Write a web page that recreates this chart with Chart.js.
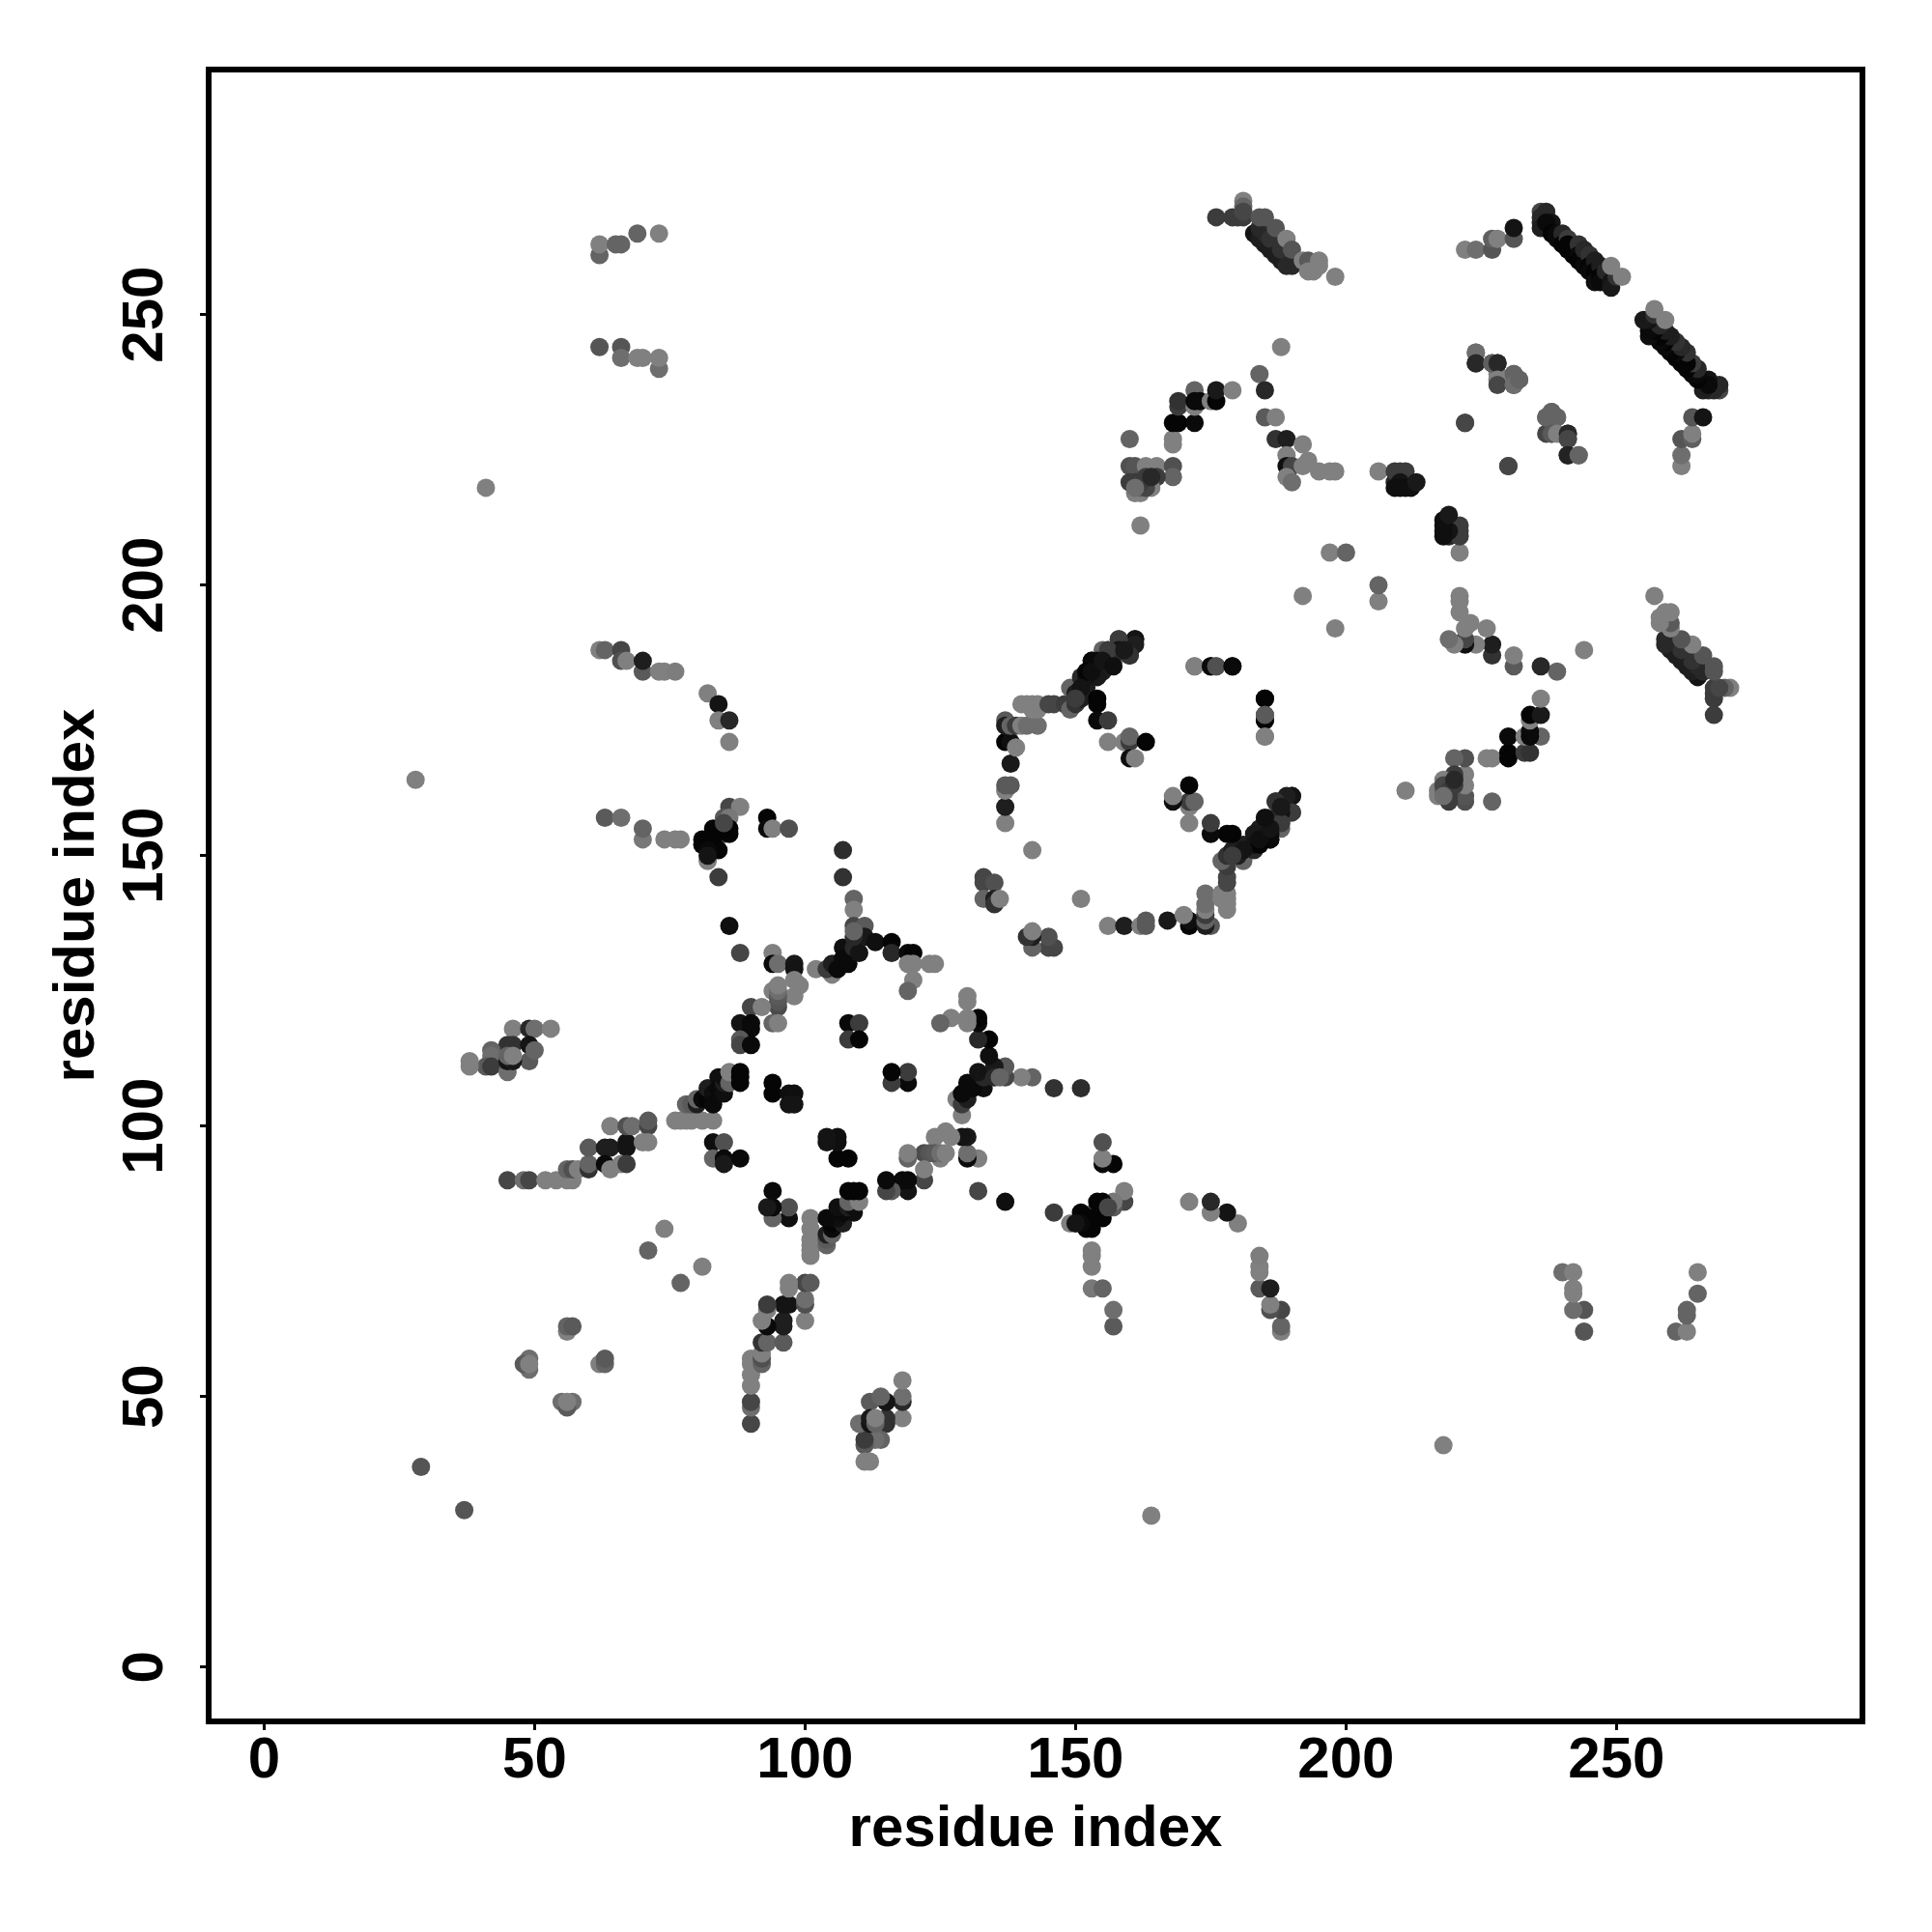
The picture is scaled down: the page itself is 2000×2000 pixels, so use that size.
<!DOCTYPE html>
<html>
<head>
<meta charset="utf-8">
<style>html,body{margin:0;padding:0;background:#fff}canvas{display:block}</style>
<script src="https://cdn.jsdelivr.net/npm/chart.js@4/dist/chart.umd.js"></script>
</head>
<body>
<canvas id="c" width="2000" height="2000" style="width:2000px;height:2000px"></canvas>
<script>
const tickValues = [0, 50, 100, 150, 200, 250];
const axisTitle = "residue index";
const contactX = [
62,62,65,66,69,73,62,66,66,69,
70,73,73,41,28,29,74,71,49,49,
48,49,56,56,57,62,63,66,66,67,
70,70,73,74,76,82,84,84,86,86,
63,66,70,70,74,76,77,82,86,88,
85,86,85,83,86,86,81,83,81,84,
82,82,85,84,93,93,94,97,107,107,
86,88,94,94,95,98,98,98,99,98,
94,95,95,95,95,95,90,92,94,95,
88,90,90,88,88,90,109,109,109,111,
102,105,104,105,106,107,107,108,109,110,
110,111,109,109,113,116,116,119,120,119,
120,123,124,120,119,108,110,108,110,94,
94,97,98,97,98,83,85,83,85,85,
88,46,49,50,53,45,46,49,49,50,
42,42,41,42,45,45,46,45,46,38,
38,45,48,49,52,54,56,57,56,57,
58,60,60,60,63,64,67,67,63,64,
66,67,64,67,68,71,71,70,71,76,
77,78,79,81,83,78,79,80,80,81,
82,82,83,82,83,83,84,84,85,85,
85,86,86,88,88,88,137,137,137,138,
137,138,137,138,139,137,137,138,139,140,
141,143,140,141,142,143,142,143,145,146,
148,149,149,150,151,151,152,153,154,154,
154,154,154,156,155,156,156,157,157,158,
160,160,161,142,156,159,160,160,163,160,
161,172,175,176,179,185,185,185,185,133,
133,135,133,135,135,136,188,184,185,185,
187,187,189,192,189,189,190,193,192,189,
190,195,197,198,206,209,209,210,211,210,
209,210,211,212,213,197,200,192,160,160,
161,163,165,168,168,165,161,164,161,162,
160,163,162,168,168,168,169,172,169,169,
172,172,172,173,175,176,176,179,176,179,
180,181,181,181,181,183,184,185,184,185,
186,186,187,188,188,189,190,184,185,187,
189,190,192,193,193,194,195,195,198,222,
224,227,227,228,231,231,224,224,227,228,
228,228,231,231,232,222,230,238,237,239,
238,239,241,241,241,243,236,237,236,236,
236,238,237,238,239,239,240,240,241,241,
241,242,242,243,243,243,244,244,245,245,
245,246,246,246,247,247,247,248,249,249,
250,249,251,
161,161,160,158,158,157,156,156,154,155,
154,153,152,152,150,151,150,153,155,157,
159,162,163,162,161,164];
const contactY = [
261,263,263,263,265,265,244,244,242,242,
242,240,242,218,164,37,81,77,55,57,
56,56,62,63,63,188,188,188,186,186,
184,186,184,184,184,180,178,175,175,171,
157,157,153,155,153,153,153,149,159,159,
157,157,154,155,155,154,153,153,152,151,
151,150,156,146,157,155,155,155,151,146,
137,132,132,130,130,130,129,127,126,124,
125,122,123,124,125,126,122,122,119,119,
119,119,118,116,115,115,142,140,137,137,
129,128,129,130,129,133,131,130,133,132,
135,135,135,136,134,134,132,132,132,130,
130,130,130,127,125,119,119,116,116,108,
106,106,106,104,104,97,97,94,94,93,
94,118,118,118,118,115,115,115,112,114,
114,113,111,111,110,112,112,113,113,112,
111,90,90,90,90,90,90,90,92,92,
92,92,93,96,96,96,97,96,93,92,
93,93,100,100,100,100,101,97,97,101,
101,101,101,101,101,104,104,104,105,105,
106,105,105,107,106,104,109,107,106,108,
109,108,110,108,109,110,156,159,162,163,
163,167,171,171,170,175,174,174,174,174,
174,174,178,178,178,178,177,177,178,178,
178,177,181,178,179,183,181,186,184,185,
179,178,175,175,188,185,188,186,188,190,
187,188,190,151,171,171,171,172,171,168,
168,185,185,185,185,179,175,176,172,146,
145,145,142,142,141,142,244,239,236,231,
231,227,227,226,224,222,222,223,222,220,
219,221,221,221,221,219,221,221,221,219,
218,218,218,218,219,206,206,198,227,222,
222,222,222,222,220,220,219,218,217,217,
219,220,211,226,227,230,230,230,233,234,
233,236,234,234,234,234,236,236,268,268,
268,268,271,270,269,265,264,263,266,265,
262,264,261,260,262,259,259,268,268,266,
264,262,260,260,258,258,260,259,257,262,
262,262,264,264,264,266,243,241,241,241,
238,237,239,237,238,230,222,232,231,231,
228,228,228,227,224,224,269,269,268,267,
266,267,267,265,265,264,265,263,264,263,
262,262,261,263,261,260,262,259,261,259,
258,260,258,256,259,257,256,258,256,255,
257,259,257,
190,189,187,190,188,187,188,185,186,184,
183,186,183,184,180,181,179,184,186,185,
188,218,218,219,218,220];
const contactShade = [
100,128,100,100,100,128,85,85,110,128,
128,110,128,128,128,85,128,100,110,110,
90,128,128,100,90,128,100,70,80,128,
90,30,128,128,125,128,20,128,40,128,
90,110,120,100,128,128,128,128,70,128,
90,120,60,5,5,5,5,5,5,5,
10,20,70,60,5,10,128,80,45,50,
15,70,128,10,110,25,20,128,128,128,
128,75,85,90,110,128,70,128,100,128,
20,10,10,90,70,10,100,128,70,90,
128,128,60,30,10,15,10,10,40,20,
20,25,40,100,15,5,40,10,5,128,
128,128,128,128,100,10,60,60,5,5,
5,15,15,20,20,15,80,100,10,25,
10,128,40,110,128,50,50,20,90,100,
100,110,90,60,110,20,25,100,128,128,
128,70,110,70,128,128,128,128,100,80,
128,50,100,90,30,30,20,20,10,128,
128,60,128,80,110,70,90,128,128,128,
128,128,128,128,128,100,90,30,100,10,
15,5,10,30,15,10,15,10,15,30,
15,100,128,5,5,5,128,30,128,90,
90,25,5,15,128,90,30,100,60,128,
110,110,128,128,128,128,128,128,70,70,
60,100,100,50,30,40,30,20,30,40,
5,5,10,60,100,60,110,110,50,70,
40,110,30,128,128,128,60,100,5,15,
128,128,10,80,10,5,5,90,128,70,
70,80,100,30,50,128,128,100,40,90,
128,50,30,128,128,15,70,128,128,128,
110,128,128,128,128,40,60,60,60,20,
15,15,15,15,25,128,100,128,100,80,
85,128,128,80,100,60,60,128,128,128,
60,60,128,128,128,5,5,10,60,50,
128,100,10,10,128,5,25,128,60,60,
60,60,128,100,70,20,30,30,40,40,
30,50,30,30,50,40,40,85,85,85,
128,85,128,90,128,128,128,128,128,128,
110,85,95,128,85,20,110,40,95,40,
128,70,100,110,100,70,70,100,100,100,
90,128,40,70,35,100,70,40,40,40,
30,20,10,5,10,10,40,5,60,5,
5,5,5,50,10,5,40,10,50,5,
10,30,5,15,30,5,10,40,20,25,
50,128,128,
20,30,50,60,20,40,60,20,15,30,
25,10,20,5,30,20,60,15,20,15,
25,100,70,60,110,40];

const toPoints = (xs, ys) => xs.map((v, i) => ({ x: v, y: ys[i] }));
const shadeColors = contactShade.map(s => `rgb(${s},${s},${s})`);
const FONT = { family: '"Liberation Sans", Arial, sans-serif', weight: 'bold', size: 60 };

const framePlugin = {
  id: 'frame',
  beforeDraw(chart) {
    const s = chart.scales.y;
    s.getLabelItems(chart.chartArea).forEach(it => {
      it.options.textAlign = 'center';
      it.options.textBaseline = 'middle';
      it.options.translation[0] = 151;
    });
  },
  afterDatasetsDraw(chart) {
    const { ctx, chartArea: a } = chart;
    ctx.save();
    ctx.lineWidth = 6;
    ctx.strokeStyle = '#000';
    ctx.strokeRect(a.left, a.top, a.right - a.left, a.bottom - a.top);
    ctx.restore();
  }
};

const axisCommon = {
  type: 'linear',
  grid: { display: true, drawOnChartArea: false, drawTicks: true, tickLength: 9, tickWidth: 3, tickColor: '#000' },
  border: { display: false },
  afterBuildTicks(scale) { scale.ticks = tickValues.map(v => ({ value: v })); }
};

new Chart(document.getElementById('c'), {
  type: 'scatter',
  data: {
    datasets: [
      { data: toPoints(contactX, contactY), backgroundColor: shadeColors, pointRadius: 9.5, pointBorderWidth: 0, pointHoverRadius: 9.5 },
      { data: toPoints(contactY, contactX), backgroundColor: shadeColors, pointRadius: 9.5, pointBorderWidth: 0, pointHoverRadius: 9.5 }
    ]
  },
  options: {
    responsive: false,
    animation: false,
    devicePixelRatio: 1,
    layout: { padding: { top: 72, right: 72, left: 0, bottom: 0 } },
    plugins: { legend: { display: false }, tooltip: { enabled: false } },
    scales: {
      x: Object.assign({}, axisCommon, {
        min: -10.25, max: 295.46,
        ticks: { color: '#000', font: FONT, padding: -4, maxRotation: 0, minRotation: 0, autoSkip: false },
        title: { display: true, text: axisTitle, color: '#000', font: FONT, padding: { top: 0, bottom: 70 } },
        afterFit(s) { s.height = 218; }
      }),
      y: Object.assign({}, axisCommon, {
        min: -10.05, max: 295.3,
        ticks: { color: '#000', font: FONT, padding: 6, minRotation: 90, maxRotation: 90, autoSkip: false },
        title: { display: true, text: axisTitle, color: '#000', font: FONT, padding: { top: 44, bottom: 0 } },
        afterFit(s) { s.width = 216; }
      })
    }
  },
  plugins: [framePlugin]
});
</script>
</body>
</html>
